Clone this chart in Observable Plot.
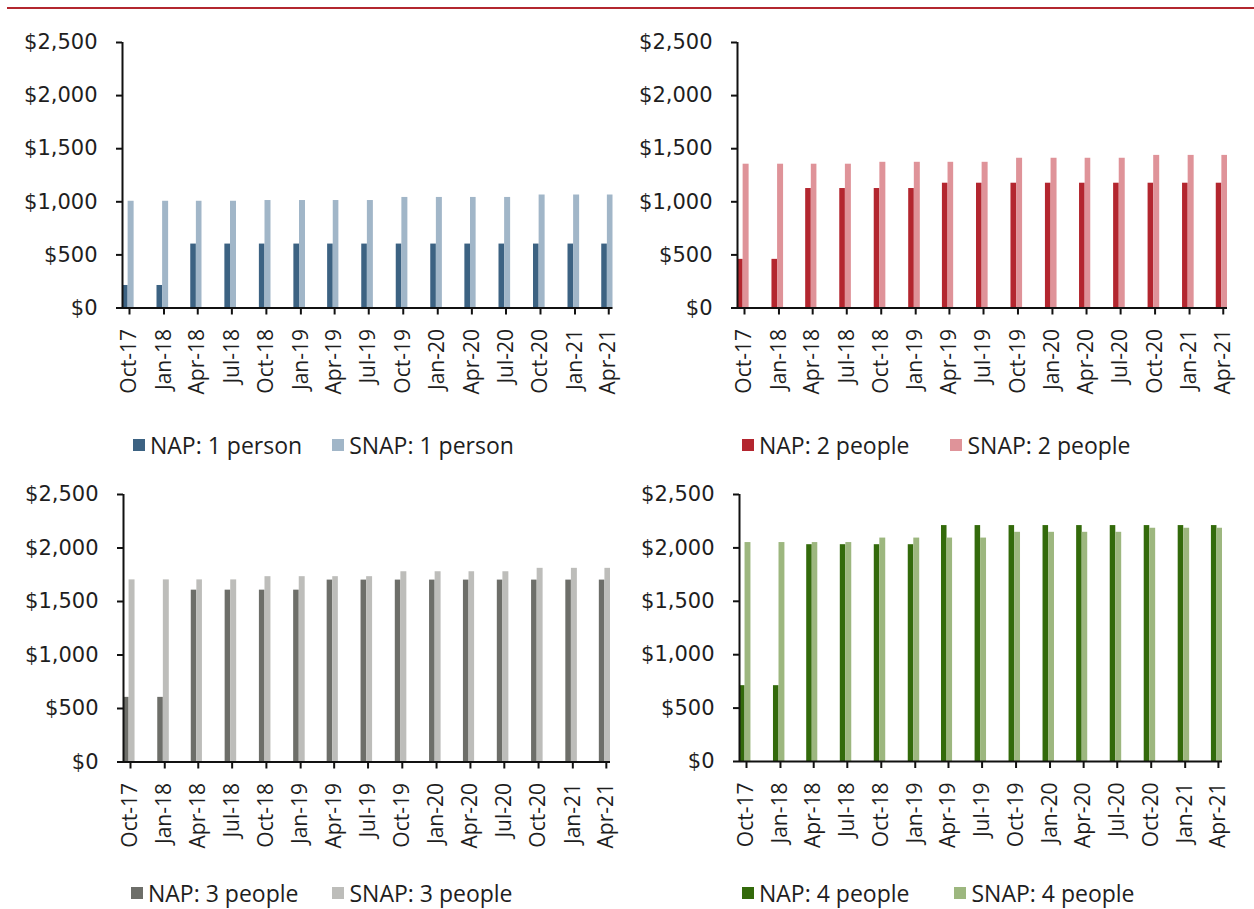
<!DOCTYPE html>
<html>
<head>
<meta charset="utf-8">
<script src="https://cdn.jsdelivr.net/npm/d3@7"></script>
<script src="https://cdn.jsdelivr.net/npm/@observablehq/plot@0.6"></script>
<style>
  body { margin: 0; background: #fff; }
  #page { position: relative; width: 1254px; height: 909px; overflow: hidden; font-family: "Open Sans", sans-serif; background: #fff; }
  .topline { position: absolute; left: 7px; right: 0; top: 7px; height: 2px; background: #b3272f; }
  .panel { position: absolute; }
  .legend { position: absolute; display: flex; align-items: center; height: 26px; font-size: 23px; color: #1e1e1e; white-space: nowrap; line-height: 26px; }
  .legend .item { display: flex; align-items: center; }
  .legend .sw { display: inline-block; width: 12px; height: 12px; margin-right: 5px; }
</style>
</head>
<body>
<div id="page"><div class="topline"></div></div>
<script>
// Quarterly observation dates and their axis labels
const quarters = ["2017-10-01", "2018-01-01", "2018-04-01", "2018-07-01", "2018-10-01",
  "2019-01-01", "2019-04-01", "2019-07-01", "2019-10-01", "2020-01-01", "2020-04-01",
  "2020-07-01", "2020-10-01", "2021-01-01", "2021-04-01"];
const tickLabels = ["Oct-17", "Jan-18", "Apr-18", "Jul-18", "Oct-18", "Jan-19", "Apr-19",
  "Jul-19", "Oct-19", "Jan-20", "Apr-20", "Jul-20", "Oct-20", "Jan-21", "Apr-21"];
const yTicks = [0, 500, 1000, 1500, 2000, 2500];

// Monthly income limits by household size
const nap1 = [212, 212, 602, 602, 602, 602, 602, 602, 602, 602, 602, 602, 602, 602, 602];
const snap1 = [1005, 1005, 1005, 1005, 1012, 1012, 1012, 1012, 1041, 1041, 1041, 1041, 1064, 1064, 1064];
const nap2 = [458, 458, 1125, 1125, 1125, 1125, 1175, 1175, 1175, 1175, 1175, 1175, 1175, 1175, 1175];
const snap2 = [1354, 1354, 1354, 1354, 1372, 1372, 1372, 1372, 1410, 1410, 1410, 1410, 1437, 1437, 1437];
const nap3 = [604, 604, 1606, 1606, 1606, 1606, 1700, 1700, 1700, 1700, 1700, 1700, 1700, 1700, 1700];
const snap3 = [1702, 1702, 1702, 1702, 1732, 1732, 1732, 1732, 1778, 1778, 1778, 1778, 1810, 1810, 1810];
const nap4 = [710, 710, 2030, 2030, 2030, 2030, 2209, 2209, 2209, 2209, 2209, 2209, 2209, 2209, 2209];
const snap4 = [2050, 2050, 2050, 2050, 2092, 2092, 2092, 2092, 2146, 2146, 2146, 2146, 2184, 2184, 2184];

const seriesLabels = [
  ["NAP: 1 person", "SNAP: 1 person"],
  ["NAP: 2 people", "SNAP: 2 people"],
  ["NAP: 3 people", "SNAP: 3 people"],
  ["NAP: 4 people", "SNAP: 4 people"]
];
const seriesColors = [
  ["#3c6282", "#a1b6c8"],
  ["#b3262f", "#df9399"],
  ["#6d6e69", "#bdbdba"],
  ["#336a0b", "#9db77f"]
];

const dates = quarters.map(s => new Date(s + "T00:00:00Z"));
const xDomain = [dates[0], d3.utcMonth.offset(dates[dates.length - 1], 1)];

// Panel placement on the page
const layout = [
  {left: 0,   width: 627, axisX: 122, endX: 612.5, yTop: 42,  yZero: 307.5, legendX: 133, legendY: 445, gap: 30},
  {left: 620, width: 634, axisX: 737, endX: 1227,  yTop: 42,  yZero: 307.5, legendX: 742, legendY: 445, gap: 41},
  {left: 0,   width: 627, axisX: 123, endX: 610,   yTop: 493.5, yZero: 761, legendX: 131, legendY: 893, gap: 34},
  {left: 620, width: 634, axisX: 739, endX: 1222,  yTop: 493.5, yZero: 760.5, legendX: 742, legendY: 893, gap: 45}
];
const napSeries = [nap1, nap2, nap3, nap4];
const snapSeries = [snap1, snap2, snap3, snap4];

const page = document.getElementById("page");
const labelOf = d => tickLabels[dates.findIndex(q => +q === +d)];

layout.forEach((L, p) => {
  const [napName, snapName] = seriesLabels[p];
  const rows = [];
  dates.forEach((d, i) => {
    const mid = d3.utcDay.offset(d, 15);
    rows.push({series: napName, x1: d, x2: mid, value: napSeries[p][i]});
    rows.push({series: snapName, x1: mid, x2: d3.utcMonth.offset(d, 1), value: snapSeries[p][i]});
  });

  const marginTop = 12, marginBottom = 110;
  const height = (L.yZero - L.yTop) + marginTop + marginBottom;

  const chart = Plot.plot({
    width: L.width,
    height,
    marginLeft: L.axisX - L.left,
    marginRight: L.left + L.width - L.endX,
    marginTop,
    marginBottom,
    style: {background: "transparent", color: "#1e1e1e", overflow: "visible"},
    x: {type: "utc", domain: xDomain},
    y: {domain: [0, 2500]},
    color: {domain: seriesLabels[p], range: seriesColors[p]},
    marks: [
      Plot.rectY(rows, {x1: "x1", x2: "x2", y: "value", fill: "series"}),
      Plot.ruleY([0], {stroke: "#111", strokeWidth: 2}),
      Plot.ruleX([xDomain[0]], {y1: 0, y2: 2500, stroke: "#111", strokeWidth: 2}),
      Plot.axisY({
        ticks: yTicks, tickFormat: d3.format("$,"), tickSize: 6, tickPadding: 19,
        strokeWidth: 2, stroke: "#111", fontFamily: "DejaVu Sans", fontSize: 21, label: null
      }),
      Plot.axisX({
        ticks: dates, tickFormat: labelOf, tickRotate: -90, tickSize: 7, tickPadding: 14,
        dx: 7, strokeWidth: 2, stroke: "#111", fontFamily: "Open Sans", fontSize: 21, label: null
      })
    ]
  });
  chart.classList.add("panel");
  chart.style.left = L.left + "px";
  chart.style.top = (L.yTop - marginTop) + "px";
  page.appendChild(chart);

  // Legend below the panel
  const legend = document.createElement("div");
  legend.className = "legend";
  legend.style.left = L.legendX + "px";
  legend.style.top = (L.legendY - 13) + "px";
  legend.style.gap = L.gap + "px";
  seriesLabels[p].forEach((name, k) => {
    const item = document.createElement("span");
    item.className = "item";
    const sw = document.createElement("span");
    sw.className = "sw";
    sw.style.background = seriesColors[p][k];
    item.appendChild(sw);
    item.appendChild(document.createTextNode(name));
    legend.appendChild(item);
  });
  page.appendChild(legend);
});
</script>
</body>
</html>
